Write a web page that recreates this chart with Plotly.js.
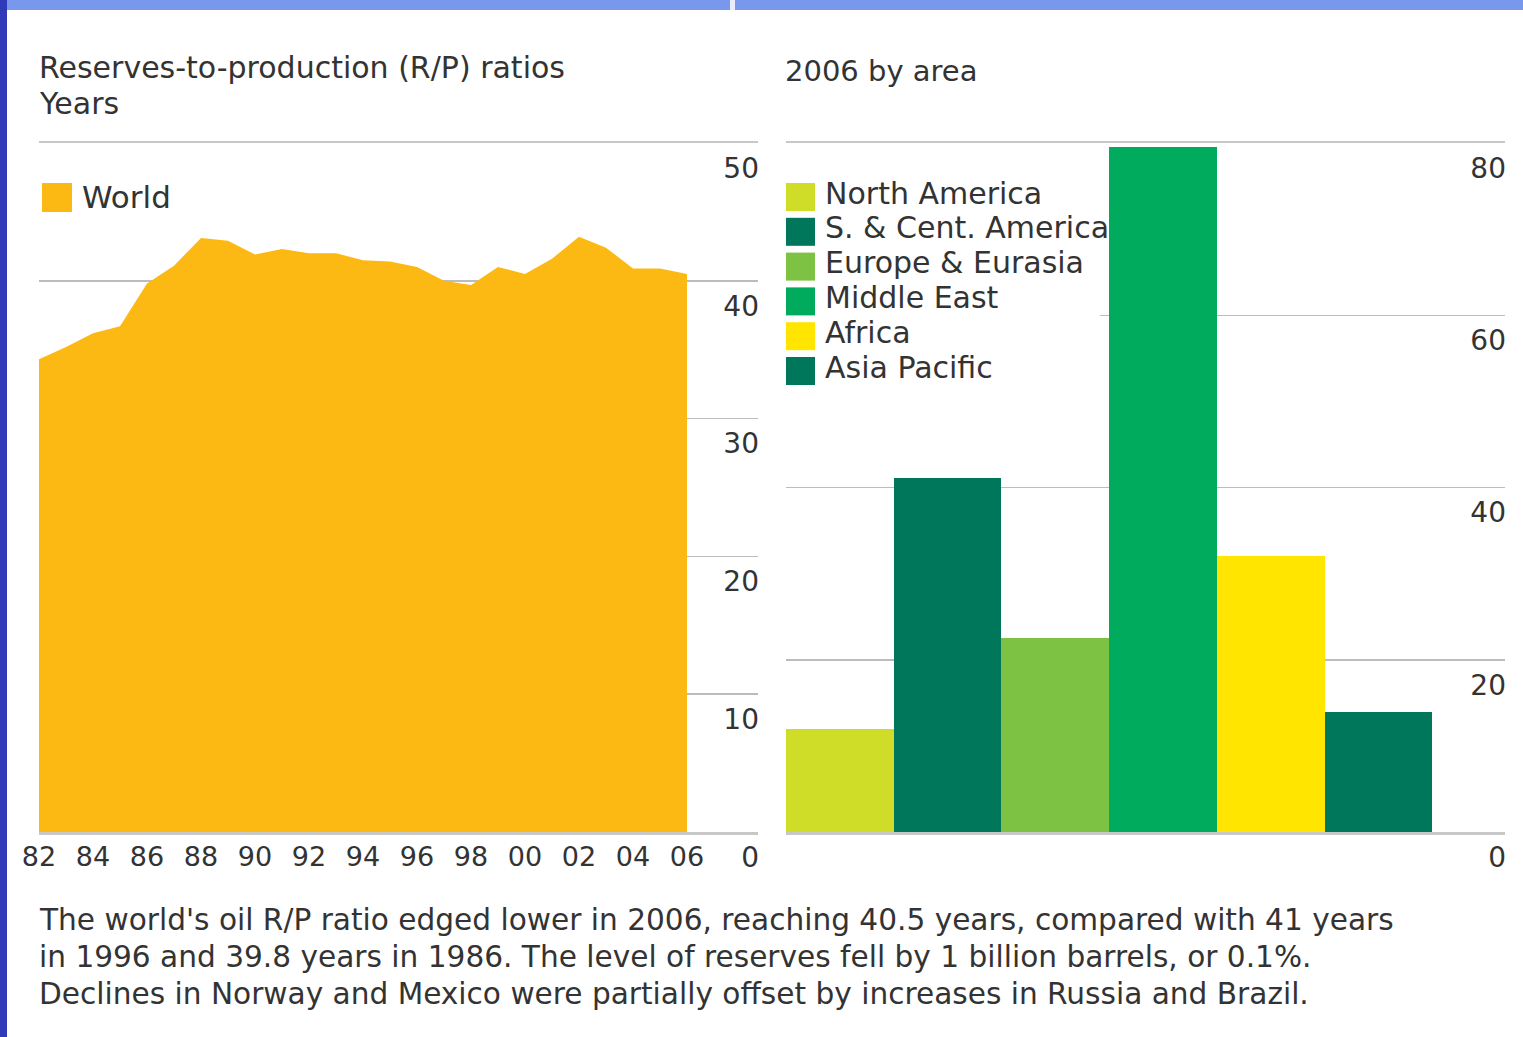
<!DOCTYPE html>
<html>
<head>
<meta charset="utf-8">
<script src="https://cdn.plot.ly/plotly-3.0.1.min.js"></script>
<style>
html,body{margin:0;padding:0;background:#fff;overflow:hidden}
#chart{width:1523px;height:1037px}
</style>
</head>
<body>
<div id="chart"></div>
<script>
// ---- data ----
const years = [1982,1983,1984,1985,1986,1987,1988,1989,1990,1991,1992,1993,1994,1995,1996,1997,1998,1999,2000,2001,2002,2003,2004,2005,2006];
const worldRP = [34.3,35.2,36.2,36.7,39.8,41.1,43.1,42.9,41.9,42.3,42.0,42.0,41.5,41.4,41.0,40.0,39.7,41.0,40.5,41.6,43.2,42.4,40.9,40.9,40.5];
const yearTickVals = [1982,1984,1986,1988,1990,1992,1994,1996,1998,2000,2002,2004,2006];
const yearTickText = ['82','84','86','88','90','92','94','96','98','00','02','04','06'];
const leftTicks = [0,10,20,30,40,50];

const regions = ['North America','S. & Cent. America','Europe & Eurasia','Middle East','Africa','Asia Pacific'];
const regionRP = [12.0,41.1,22.5,79.5,32.0,13.9];
const regionColors = ['#D0DD28','#00775A','#7DC242','#00AB5E','#FFE500','#00775A'];
const rightTicks = [0,20,40,60,80];

const worldName = 'World';
const worldColor = '#FDB913';
const leftTitleLines = ['Reserves-to-production (R/P) ratios', 'Years'];
const rightTitle = '2006 by area';
const captionLines = [
  "The world's oil R/P ratio edged lower in 2006, reaching 40.5 years, compared with 41 years",
  "in 1996 and 39.8 years in 1986. The level of reserves fell by 1 billion barrels, or 0.1%.",
  "Declines in Norway and Mexico were partially offset by increases in Russia and Brazil."
];

// ---- geometry helpers (pixels -> paper) ----
const W = 1523, H = 1037;
const fx = p => p / W;
const fy = p => 1 - p / H;
const FONT = 'DejaVu Sans, Verdana, sans-serif';
const TXT = '#333333';
const GRID = '#bcbcbc';

const traces = [
  {
    type: 'scatter', x: years, y: worldRP, name: worldName,
    mode: 'none', fill: 'tozeroy', fillcolor: worldColor,
    xaxis: 'x', yaxis: 'y', showlegend: false, hoverinfo: 'x+y'
  },
  {
    type: 'bar', x: regions, y: regionRP, width: 1,
    marker: {color: regionColors, line: {width: 0}},
    xaxis: 'x2', yaxis: 'y2', showlegend: false
  }
];

const lineStyle = {showline: true, mirror: true, linecolor: '#c8c8c8', linewidth: 2.5};

const layout = {
  width: W, height: H,
  margin: {l: 0, r: 0, t: 0, b: 0, pad: 0},
  paper_bgcolor: '#ffffff', plot_bgcolor: 'rgba(0,0,0,0)',
  font: {family: FONT, color: TXT, size: 28},
  showlegend: false,
  bargap: 0,
  xaxis: Object.assign({
    domain: [fx(39), fx(758)], range: [1982, 1982 + (758 - 39) / 27],
    tickvals: yearTickVals, ticktext: yearTickText, ticks: '',
    showgrid: false, zeroline: false, fixedrange: true,
    tickfont: {size: 27, color: TXT}, ticklabelstandoff: -1
  }, lineStyle),
  yaxis: {
    domain: [fy(832), fy(143)], range: [0, 50], anchor: 'x',
    side: 'right', ticklabelposition: 'inside', ticklabeloverflow: 'allow',
    tickvals: leftTicks, ticks: '', ticklabelshift: 25, ticklabelstandoff: -4,
    showgrid: true, gridcolor: GRID, gridwidth: 1.5, zeroline: false, showline: false,
    tickfont: {size: 28, color: TXT}, fixedrange: true
  },
  xaxis2: Object.assign({
    domain: [fx(786), fx(1505)], range: [-0.5, -0.5 + (1505 - 786) / 107.7],
    anchor: 'y2', showticklabels: false, ticks: '', showgrid: false, zeroline: false, fixedrange: true
  }, lineStyle),
  yaxis2: {
    domain: [fy(832), fy(143)], range: [0, 80], anchor: 'x2',
    side: 'right', ticklabelposition: 'inside', ticklabeloverflow: 'allow',
    tickvals: rightTicks, ticks: '', ticklabelshift: 25, ticklabelstandoff: -4,
    showgrid: true, gridcolor: GRID, gridwidth: 1.5, zeroline: false, showline: false,
    tickfont: {size: 28, color: TXT}, fixedrange: true
  },
  shapes: [],
  annotations: []
};

// frame decoration (presentation background strips)
layout.shapes.push({type: 'rect', xref: 'paper', yref: 'paper', x0: 0, x1: fx(7), y0: 0, y1: 1,
  fillcolor: '#2f3bb8', line: {width: 0}, layer: 'above'});
layout.shapes.push({type: 'rect', xref: 'paper', yref: 'paper', x0: fx(7), x1: 1, y0: fy(10), y1: 1,
  fillcolor: '#7898ee', line: {width: 0}, layer: 'above'});
layout.shapes.push({type: 'rect', xref: 'paper', yref: 'paper', x0: fx(730), x1: fx(735), y0: fy(10), y1: 1,
  fillcolor: '#e8ecfb', line: {width: 0}, layer: 'above'});

// left legend
layout.shapes.push({type: 'rect', xref: 'paper', yref: 'paper', x0: fx(42), x1: fx(72), y0: fy(212), y1: fy(183),
  fillcolor: worldColor, line: {width: 0}, layer: 'above'});
layout.annotations.push({xref: 'paper', yref: 'paper', x: fx(80), y: fy(197), xanchor: 'left', yanchor: 'middle',
  text: worldName, showarrow: false, font: {size: 31, color: TXT, family: FONT}});

// right legend: white box hiding gridline, then swatches + labels
layout.shapes.push({type: 'rect', xref: 'paper', yref: 'paper', x0: fx(786), x1: fx(1100), y0: fy(392), y1: fy(172),
  fillcolor: '#ffffff', line: {width: 0}, layer: 'above'});
regions.forEach((r, i) => {
  const cy = 197 + 34.8 * i;
  layout.shapes.push({type: 'rect', xref: 'paper', yref: 'paper', x0: fx(786), x1: fx(815), y0: fy(cy + 14), y1: fy(cy - 14),
    fillcolor: regionColors[i], line: {width: 0}, layer: 'above'});
  layout.annotations.push({xref: 'paper', yref: 'paper', x: fx(823), y: fy(cy - 4), xanchor: 'left', yanchor: 'middle',
    text: r, showarrow: false, font: {size: 30, color: TXT, family: FONT}});
});

// titles
leftTitleLines.forEach((t, i) => {
  layout.annotations.push({xref: 'paper', yref: 'paper', x: fx(37), y: fy(67 + 36.5 * i), xanchor: 'left', yanchor: 'middle',
    text: t, showarrow: false, font: {size: 30, color: TXT, family: FONT}});
});
layout.annotations.push({xref: 'paper', yref: 'paper', x: fx(783), y: fy(71), xanchor: 'left', yanchor: 'middle',
  text: rightTitle, showarrow: false, font: {size: 29, color: TXT, family: FONT}});
// caption
captionLines.forEach((t, i) => {
  layout.annotations.push({xref: 'paper', yref: 'paper', x: fx(37), y: fy(920 + 37 * i), xanchor: 'left', yanchor: 'middle',
    text: t, showarrow: false, font: {size: 29.6, color: TXT, family: FONT}});
});

Plotly.newPlot('chart', traces, layout, {displayModeBar: false, staticPlot: true});
</script>
</body>
</html>
